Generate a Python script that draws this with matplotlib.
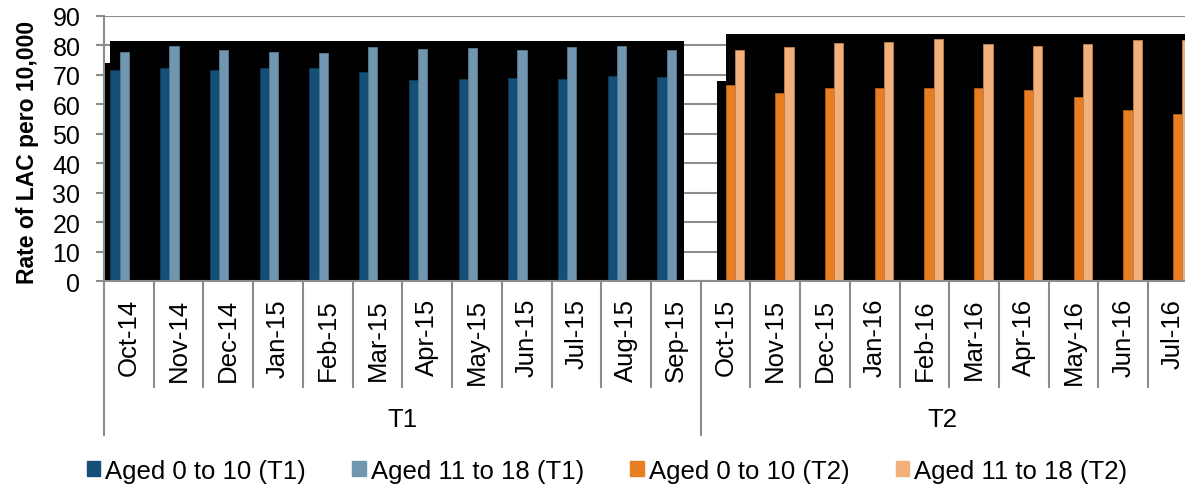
import numpy as np
import matplotlib
matplotlib.use("Agg")
import matplotlib.pyplot as plt
import matplotlib.transforms as mtransforms
from matplotlib.patches import Patch

plt.rcParams['font.family'] = ['Liberation Sans', 'DejaVu Sans']

# categories
months_t1 = ['Oct-14', 'Nov-14', 'Dec-14', 'Jan-15', 'Feb-15', 'Mar-15',
             'Apr-15', 'May-15', 'Jun-15', 'Jul-15', 'Aug-15', 'Sep-15']
months_t2 = ['Oct-15', 'Nov-15', 'Dec-15', 'Jan-16', 'Feb-16', 'Mar-16',
             'Apr-16', 'May-16', 'Jun-16', 'Jul-16']
groups = ['T1', 'T2']

# rates per 10,000
young_t1 = [71.6, 72.2, 71.8, 72.5, 72.5, 71.1, 68.1, 68.7, 69.0, 68.7, 69.6, 69.2]
older_t1 = [77.9, 79.8, 78.4, 77.9, 77.6, 79.5, 78.7, 79.0, 78.4, 79.5, 79.9, 78.4]
young_t2 = [66.5, 64.0, 65.5, 65.7, 65.7, 65.7, 64.8, 62.4, 58.2, 56.7]
older_t2 = [78.3, 79.5, 80.7, 81.1, 82.3, 80.4, 79.9, 80.4, 81.9, 81.9]

# black backing panels (step outline, category units)
panel_t1_x = [-0.5, -0.38, 11.16]
panel_t1_y = [74.0, 81.4, 81.4]
panel_t2_x = [11.82, 12.0, 21.6]
panel_t2_y = [67.8, 83.8, 83.8]

c_young_t1 = '#134f76'
c_older_t1 = '#7196b0'
c_young_t2 = '#e87e22'
c_older_t2 = '#f2b07a'
grey = '#8c8c8c'

fig = plt.figure(figsize=(11.85, 4.89), dpi=100)
ax = fig.add_axes([104 / 1185, 207 / 489, 1081 / 1185, 265 / 489])

n1, n2 = len(months_t1), len(months_t2)
x1 = np.arange(n1)
x2 = np.arange(n1, n1 + n2)
w = 0.185

for px, py in [(panel_t1_x, panel_t1_y), (panel_t2_x, panel_t2_y)]:
    ax.fill_between(px, 0, py, step='post', color='black', lw=0, zorder=1)

ax.bar(x1 - 1.5 * w, young_t1, w, color=c_young_t1, edgecolor='#0d3a57', lw=0.6, zorder=2)
ax.bar(x1 - 0.5 * w, older_t1, w, color=c_older_t1, edgecolor='#5a7a92', lw=0.6, zorder=2)
ax.bar(x2 + 0.5 * w, young_t2, w, color=c_young_t2, edgecolor='#b0601a', lw=0.6, zorder=2)
ax.bar(x2 + 1.5 * w, older_t2, w, color=c_older_t2, edgecolor='#c08050', lw=0.6, zorder=2)

ax.set_xlim(-0.5, 21.24)
ax.set_ylim(0, 90)
ax.set_yticks(np.arange(0, 91, 10))
ax.yaxis.grid(True, color=grey, lw=1.5, zorder=0)
ax.set_axisbelow(True)
ax.tick_params(axis='y', labelsize=18, length=6, width=1.5, color=grey, pad=11)
ax.set_xticks([])
for s in ['top', 'right']:
    ax.spines[s].set_visible(False)
for s in ['left', 'bottom']:
    ax.spines[s].set_color(grey)
    ax.spines[s].set_linewidth(1.5)

# two-level category axis drawn below the plot
trans = mtransforms.blended_transform_factory(ax.transData, ax.transAxes)
months = months_t1 + months_t2
for i, m in enumerate(months):
    ax.text(i, -0.064, m, transform=trans, rotation=90, ha='center', va='top',
            fontsize=18.5, clip_on=False)
for b in np.arange(-0.5, n1 + n2, 1.0):
    depth = -0.58 if b in (-0.5, n1 - 0.5) else -0.40
    ax.plot([b, b], [0, depth], transform=trans, color=grey, lw=1.5,
            clip_on=False, zorder=3)

ax.text(402 / 1185, 1 - 420 / 489, groups[0], transform=fig.transFigure,
        ha='center', va='center', fontsize=18.5)
ax.text(942 / 1185, 1 - 420 / 489, groups[1], transform=fig.transFigure,
        ha='center', va='center', fontsize=18.5)

fig.text(28 / 1185, 1 - 152 / 489, 'Rate of LAC pero 10,000', rotation=90,
         ha='center', va='center', fontsize=16.5, fontweight='bold')

handles = [Patch(color=c_young_t1, label='Aged 0 to 10 (T1)'),
           Patch(color=c_older_t1, label='Aged 11 to 18 (T1)'),
           Patch(color=c_young_t2, label='Aged 0 to 10 (T2)'),
           Patch(color=c_older_t2, label='Aged 11 to 18 (T2)')]
fig.legend(handles=handles, loc='center', bbox_to_anchor=(607 / 1185, 1 - 472 / 489),
           ncol=4, frameon=False, fontsize=18.5, handlelength=0.52,
           handleheight=0.52, handletextpad=0.2, columnspacing=1.8)

fig.savefig('out.png', dpi=100)
